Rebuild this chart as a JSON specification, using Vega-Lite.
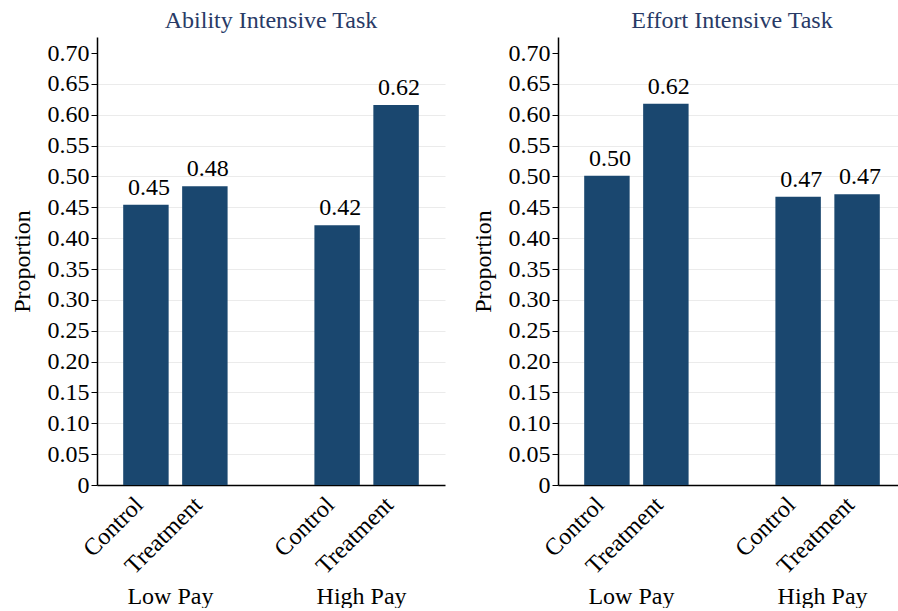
{
  "$schema": "https://vega.github.io/schema/vega-lite/v6.json",
  "padding": {"left": 10, "top": 9, "right": 0, "bottom": 0},
  "background": "white",
  "config": {"view": {"stroke": null}},
  "data": {"values": [
    {"task": "Ability Intensive Task", "pay": "Low Pay", "arm": "Control", "value": 0.454},
    {"task": "Ability Intensive Task", "pay": "Low Pay", "arm": "Treatment", "value": 0.484},
    {"task": "Ability Intensive Task", "pay": "High Pay", "arm": "Control", "value": 0.421},
    {"task": "Ability Intensive Task", "pay": "High Pay", "arm": "Treatment", "value": 0.616},
    {"task": "Effort Intensive Task", "pay": "Low Pay", "arm": "Control", "value": 0.501},
    {"task": "Effort Intensive Task", "pay": "Low Pay", "arm": "Treatment", "value": 0.618},
    {"task": "Effort Intensive Task", "pay": "High Pay", "arm": "Control", "value": 0.467},
    {"task": "Effort Intensive Task", "pay": "High Pay", "arm": "Treatment", "value": 0.471}
  ]},
  "facet": {
    "column": {
      "field": "task",
      "type": "nominal",
      "sort": ["Ability Intensive Task", "Effort Intensive Task"],
      "header": {
        "title": null,
        "labelFont": "Liberation Serif",
        "labelFontSize": 24,
        "labelColor": "#283a66",
        "labelPadding": 4
      }
    }
  },
  "spacing": 26,
  "resolve": {"axis": {"y": "independent", "x": "independent"}},
  "spec": {
    "width": 348,
    "height": 448,
    "encoding": {
      "x": {
        "field": "pay",
        "type": "nominal",
        "sort": ["Low Pay", "High Pay"],
        "scale": {"paddingInner": 0.454, "paddingOuter": 0.137},
        "axis": {
          "title": null,
          "labelAngle": 0,
          "ticks": false,
          "labelPadding": 99,
          "labelOffset": -5,
          "labelFont": "Liberation Serif",
          "labelFontSize": 24,
          "labelColor": "black",
          "domainColor": "black",
          "domainWidth": 1.5
        }
      },
      "xOffset": {
        "field": "arm",
        "type": "nominal",
        "sort": ["Control", "Treatment"],
        "scale": {"paddingInner": 0.229, "paddingOuter": 0}
      },
      "y": {
        "field": "value",
        "type": "quantitative",
        "scale": {"domain": [0, 0.726], "nice": false, "zero": true},
        "axis": {
          "title": "Proportion",
          "titleFont": "Liberation Serif",
          "titleFontSize": 24,
          "titleFontWeight": "normal",
          "titleColor": "black",
          "titlePadding": 13,
          "values": [0, 0.05, 0.1, 0.15, 0.2, 0.25, 0.3, 0.35, 0.4, 0.45, 0.5, 0.55, 0.6, 0.65, 0.7],
          "labelExpr": "datum.value == 0 ? '0' : format(datum.value, '.2f')",
          "labelOverlap": false,
          "labelFont": "Liberation Serif",
          "labelFontSize": 24,
          "labelColor": "black",
          "labelPadding": 2,
          "tickSize": 6,
          "tickColor": "black",
          "domainColor": "black",
          "domainWidth": 1.5,
          "grid": true,
          "gridColor": "#ebebeb",
          "gridWidth": 1,
          "gridOpacity": {"condition": {"test": "datum.value > 0.69 || datum.value < 0.01", "value": 0}, "value": 1}
        }
      }
    },
    "layer": [
      {
        "mark": {"type": "bar", "color": "#1a476f"}
      },
      {
        "mark": {"type": "text", "font": "Liberation Serif", "fontSize": 24, "baseline": "alphabetic", "dy": -10, "dx": 3, "color": "black"},
        "encoding": {
          "text": {"field": "value", "type": "quantitative", "format": ".2f"}
        }
      },
      {
        "mark": {"type": "text", "font": "Liberation Serif", "fontSize": 24, "angle": 315, "align": "right", "baseline": "middle", "dx": -16, "dy": 7, "color": "black"},
        "encoding": {
          "y": {
            "datum": 0,
            "type": "quantitative",
            "axis": {
              "title": "Proportion",
              "titleFont": "Liberation Serif",
              "titleFontSize": 24,
              "titleFontWeight": "normal",
              "titleColor": "black",
              "titlePadding": 13,
              "values": [0, 0.05, 0.1, 0.15, 0.2, 0.25, 0.3, 0.35, 0.4, 0.45, 0.5, 0.55, 0.6, 0.65, 0.7],
              "labelExpr": "datum.value == 0 ? '0' : format(datum.value, '.2f')",
              "labelOverlap": false,
              "labelFont": "Liberation Serif",
              "labelFontSize": 24,
              "labelColor": "black",
              "labelPadding": 2,
              "tickSize": 6,
              "tickColor": "black",
              "domainColor": "black",
              "domainWidth": 1.5,
              "grid": true,
              "gridColor": "#ebebeb",
              "gridWidth": 1,
              "gridOpacity": {"condition": {"test": "datum.value > 0.69 || datum.value < 0.01", "value": 0}, "value": 1}
            }
          },
          "text": {"field": "arm", "type": "nominal"}
        }
      }
    ]
  }
}
